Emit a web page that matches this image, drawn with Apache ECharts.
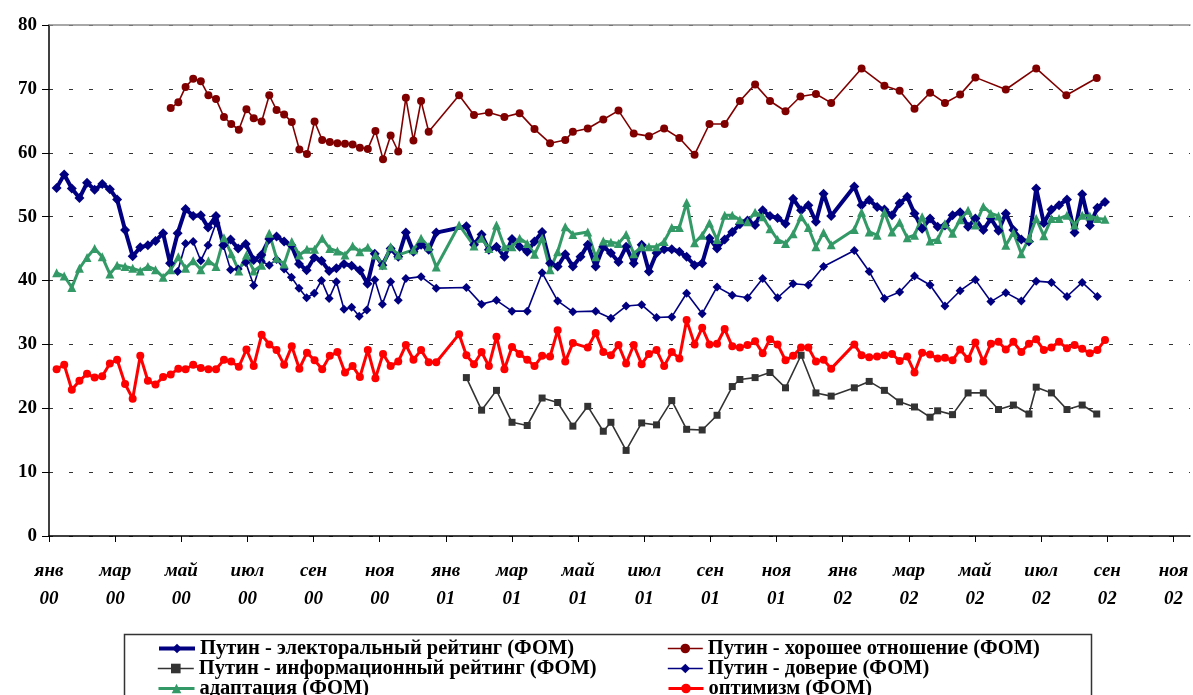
<!DOCTYPE html>
<html>
<head>
<meta charset="utf-8">
<script src="https://cdn.jsdelivr.net/npm/echarts@6/dist/echarts.min.js"></script>
<style>
html,body{margin:0;padding:0;background:#fff;}
#chart{width:1193px;height:695px;}
</style>
</head>
<body>
<div id="chart"></div>
<script>
// x values: months since January 2000 (survey dates)
const monthNames = ['янв','мар','май','июл','сен','ноя'];
const yearNames = ['00','01','02'];
const tickMonths = [0,2,4,6,8,10,12,14,16,18,20,22,24,26,28,30,32,34];

const seriesNames = [
  'Путин - электоральный рейтинг (ФОМ)',
  'Путин - хорошее отношение (ФОМ)',
  'Путин - информационный рейтинг (ФОМ)',
  'Путин - доверие (ФОМ)',
  'адаптация (ФОМ)',
  'оптимизм (ФОМ)'
];

const electoralT = [0.23,0.46,0.69,0.92,1.15,1.38,1.61,1.84,2.06,2.30,2.53,2.76,2.99,3.22,3.45,3.66,3.89,4.13,4.36,4.59,4.81,5.05,5.27,5.49,5.72,5.95,6.19,6.42,6.66,6.88,7.11,7.33,7.56,7.79,8.02,8.24,8.47,8.69,8.92,9.15,9.40,9.63,9.85,10.08,10.33,10.56,10.79,11.02,11.25,11.48,11.71,12.62,12.85,13.08,13.30,13.53,13.77,14.00,14.23,14.46,14.68,14.91,15.15,15.38,15.61,15.84,16.07,16.29,16.53,16.76,16.99,17.22,17.45,17.68,17.92,18.14,18.37,18.60,18.83,19.06,19.28,19.52,19.75,19.97,20.20,20.43,20.66,20.89,21.12,21.35,21.58,21.80,22.03,22.27,22.50,22.74,22.96,23.19,23.42,23.65,24.35,24.57,24.80,25.04,25.26,25.49,25.72,25.95,26.17,26.40,26.64,26.87,27.09,27.32,27.55,27.79,28.01,28.25,28.48,28.71,28.93,29.16,29.40,29.63,29.85,30.08,30.31,30.54,30.78,31.01,31.24,31.47,31.70,31.93];
const electoralV = [54.5,56.6,54.4,52.9,55.3,54.2,55.1,54.3,52.7,47.9,43.8,45.2,45.5,46.2,47.4,42.7,47.4,51.2,50.1,50.2,48.3,50.1,45.5,46.4,45.0,45.7,43.2,44.0,46.5,46.9,46.1,45.5,42.6,41.6,43.6,43.1,41.5,41.9,42.6,42.3,41.6,39.5,44.2,42.4,45.0,43.7,47.5,44.5,45.6,44.8,47.5,48.5,45.6,47.2,44.8,45.3,43.7,46.5,45.3,44.5,46.1,47.6,42.7,42.2,44.1,42.2,43.7,45.6,42.2,45.3,44.3,42.9,45.3,42.7,45.6,41.4,44.3,44.9,44.9,44.5,43.7,42.4,42.7,46.6,45.0,46.4,47.6,48.8,49.4,48.7,51.0,50.1,49.8,48.9,52.8,51.0,51.8,49.2,53.6,50.1,54.7,51.8,52.6,51.5,51.1,50.2,52.1,53.1,50.5,48.1,49.7,48.4,48.6,50.2,50.7,48.4,49.7,47.9,49.7,47.8,50.5,47.9,46.4,46.1,54.4,49.0,51.1,51.8,52.7,47.5,53.5,48.6,51.4,52.3];

const goodT = [3.68,3.91,4.13,4.36,4.59,4.82,5.05,5.29,5.51,5.74,5.97,6.19,6.43,6.66,6.88,7.11,7.34,7.57,7.80,8.03,8.26,8.49,8.72,8.95,9.18,9.40,9.64,9.87,10.10,10.33,10.56,10.79,11.02,11.25,11.48,12.40,12.85,13.30,13.77,14.23,14.68,15.15,15.61,15.84,16.29,16.76,17.22,17.68,18.14,18.60,19.06,19.52,19.97,20.43,20.89,21.35,21.80,22.27,22.72,23.19,23.65,24.57,25.26,25.72,26.17,26.64,27.09,27.55,28.01,28.93,29.85,30.76,31.68];
const goodV = [67.0,67.9,70.3,71.6,71.2,69.0,68.4,65.6,64.5,63.6,66.8,65.4,64.9,69.0,66.7,66.0,64.8,60.5,59.8,64.9,62.0,61.7,61.5,61.4,61.3,60.8,60.6,63.4,59.0,62.7,60.2,68.6,61.9,68.1,63.3,69.0,65.9,66.3,65.6,66.2,63.7,61.5,62.0,63.3,63.8,65.2,66.6,63.0,62.6,63.8,62.3,59.7,64.5,64.5,68.1,70.7,68.1,66.5,68.8,69.2,67.8,73.2,70.5,69.7,66.9,69.4,67.8,69.1,71.8,69.9,73.2,69.0,71.7];

const infoT = [12.62,13.08,13.53,14.00,14.46,14.91,15.38,15.84,16.29,16.76,16.99,17.45,17.92,18.37,18.83,19.28,19.75,20.20,20.66,20.89,21.35,21.80,22.27,22.74,23.19,23.65,24.35,24.80,25.26,25.72,26.17,26.64,26.87,27.32,27.79,28.25,28.71,29.16,29.63,29.85,30.31,30.78,31.24,31.68];
const infoV = [24.8,19.7,22.8,17.8,17.3,21.6,20.9,17.2,20.3,16.4,17.8,13.4,17.7,17.4,21.2,16.7,16.6,18.9,23.4,24.5,24.8,25.6,23.2,28.3,22.4,21.9,23.2,24.2,22.8,21.0,20.2,18.6,19.6,19.0,22.4,22.4,19.8,20.5,19.1,23.3,22.4,19.8,20.5,19.1];

const trustT = [3.89,4.13,4.36,4.59,4.81,5.05,5.27,5.49,5.72,5.95,6.19,6.42,6.66,6.88,7.11,7.33,7.56,7.79,8.02,8.24,8.47,8.69,8.92,9.15,9.38,9.61,9.85,10.08,10.33,10.56,10.79,11.25,11.71,12.62,13.08,13.53,14.00,14.46,14.91,15.38,15.84,16.53,16.99,17.45,17.92,18.37,18.83,19.28,19.75,20.20,20.66,21.12,21.58,22.03,22.50,22.96,23.42,24.35,24.80,25.26,25.72,26.17,26.64,27.09,27.55,28.01,28.48,28.93,29.40,29.85,30.31,30.78,31.24,31.70];
const trustV = [41.4,45.8,46.1,43.1,45.5,49.0,45.5,41.7,41.8,42.8,39.2,43.0,42.4,43.3,41.8,40.5,38.8,37.3,38.0,40.0,37.2,39.8,35.5,35.8,34.4,35.4,40.1,36.3,39.8,36.9,40.3,40.6,38.8,38.9,36.3,36.9,35.2,35.2,41.2,36.8,35.1,35.2,34.1,36.0,36.2,34.2,34.3,38.0,34.8,39.0,37.7,37.3,40.3,37.3,39.5,39.3,42.2,44.7,41.4,37.2,38.2,40.7,39.3,36.0,38.4,40.1,36.7,38.1,36.8,39.9,39.7,37.5,39.7,37.5];

const adaptT = [0.23,0.46,0.69,0.92,1.15,1.38,1.61,1.84,2.06,2.30,2.53,2.76,2.99,3.22,3.45,3.68,3.91,4.13,4.36,4.59,4.82,5.05,5.29,5.51,5.74,5.97,6.19,6.43,6.66,6.88,7.11,7.34,7.57,7.80,8.03,8.26,8.49,8.72,8.95,9.18,9.40,9.64,9.87,10.10,10.33,10.56,11.02,11.25,11.48,11.71,12.40,12.85,13.08,13.30,13.53,13.77,14.00,14.23,14.46,14.68,14.91,15.15,15.38,15.61,15.84,16.29,16.53,16.76,16.99,17.22,17.45,17.68,17.92,18.14,18.37,18.60,18.83,19.06,19.28,19.52,19.75,19.97,20.20,20.43,20.66,20.89,21.12,21.35,21.58,21.80,22.03,22.27,22.50,22.74,22.96,23.19,23.42,23.65,24.35,24.57,24.80,25.04,25.26,25.49,25.72,25.95,26.17,26.40,26.64,26.87,27.09,27.32,27.55,27.79,28.01,28.25,28.48,28.71,28.93,29.16,29.40,29.63,29.85,30.08,30.31,30.54,30.78,31.01,31.24,31.47,31.70,31.93];
const adaptV = [41.2,40.7,38.9,41.9,43.6,45.0,43.7,41.0,42.4,42.2,41.9,41.5,42.2,41.7,40.5,41.7,43.7,41.9,43.1,41.7,43.1,42.2,46.7,44.2,41.5,44.0,41.5,42.4,47.4,43.5,42.6,46.1,44.0,44.9,44.9,46.6,45.0,44.6,44.0,45.4,44.5,45.2,44.0,42.4,45.3,44.0,44.8,46.6,45.3,42.1,48.7,45.4,46.6,45.0,48.7,45.3,45.3,46.6,45.8,44.1,46.6,41.7,44.5,48.4,47.2,47.6,43.7,46.2,46.0,45.8,47.2,44.2,45.3,45.3,45.3,46.1,48.3,48.3,52.2,45.9,47.1,49.0,46.4,50.2,50.2,49.5,49.2,50.7,50.0,48.1,46.4,45.8,47.3,50.0,48.3,45.3,47.5,45.6,48.0,50.7,47.6,47.1,50.7,47.6,49.1,46.7,47.1,50.0,46.2,46.4,48.9,47.4,49.5,51.0,48.7,51.6,50.5,50.1,45.5,47.5,44.2,46.6,49.7,47.0,49.7,49.7,50.2,48.7,50.2,50.1,49.7,49.6];

const optimT = [0.23,0.46,0.69,0.92,1.15,1.38,1.61,1.84,2.06,2.30,2.53,2.76,2.99,3.22,3.45,3.68,3.91,4.13,4.36,4.59,4.82,5.05,5.29,5.51,5.74,5.97,6.19,6.43,6.66,6.88,7.11,7.34,7.57,7.80,8.03,8.26,8.49,8.72,8.95,9.18,9.40,9.64,9.87,10.10,10.33,10.56,10.79,11.02,11.25,11.48,11.71,12.40,12.62,12.85,13.08,13.30,13.53,13.77,14.00,14.23,14.46,14.68,14.91,15.15,15.38,15.61,15.84,16.29,16.53,16.76,16.99,17.22,17.45,17.68,17.92,18.14,18.37,18.60,18.83,19.06,19.28,19.52,19.75,19.97,20.20,20.43,20.66,20.89,21.12,21.35,21.58,21.80,22.03,22.27,22.50,22.74,22.96,23.19,23.42,23.65,24.35,24.57,24.80,25.04,25.26,25.49,25.72,25.95,26.17,26.40,26.64,26.87,27.09,27.32,27.55,27.79,28.01,28.25,28.48,28.71,28.93,29.16,29.40,29.63,29.85,30.08,30.31,30.54,30.78,31.01,31.24,31.47,31.70,31.93];
const optimV = [26.1,26.8,22.9,24.3,25.4,24.8,25.0,27.0,27.6,23.8,21.5,28.2,24.3,23.7,24.9,25.3,26.2,26.1,26.8,26.3,26.1,26.1,27.6,27.3,26.5,29.2,26.6,31.5,30.0,29.1,26.8,29.7,26.2,28.7,27.5,26.1,28.2,28.8,25.6,26.6,24.9,29.1,24.7,28.5,26.6,27.3,29.9,27.6,29.1,27.2,27.2,31.6,28.3,26.9,28.8,26.6,31.2,26.1,29.6,28.5,27.6,26.6,28.2,28.1,32.2,27.3,30.2,29.5,31.8,28.8,28.3,29.9,27.0,29.9,26.9,28.5,29.1,26.6,28.8,27.8,33.8,30.0,32.6,30.0,30.1,32.4,29.7,29.5,29.9,30.5,28.6,30.8,30.0,27.5,28.2,29.5,29.5,27.3,27.6,26.2,30.0,28.3,28.0,28.1,28.3,28.5,27.4,28.1,25.6,28.7,28.4,27.8,27.9,27.5,29.2,27.7,30.3,27.3,30.1,30.4,29.2,30.4,28.8,30.1,30.8,29.1,29.5,30.4,29.4,29.9,29.3,28.6,29.1,30.7];

function zip(t, v) { return t.map((x, i) => [x, v[i]]); }

const serif = 'Liberation Serif, Times New Roman, serif';

const chart = echarts.init(document.getElementById('chart'), null, {renderer: 'canvas'});

const styles = [
  {color: '#000080', width: 4,   symbol: 'diamond',  size: 10},
  {color: '#800000', width: 1.6, symbol: 'circle',   size: 8},
  {color: '#333333', width: 1.6, symbol: 'rect',     size: 7},
  {color: '#000080', width: 1.6, symbol: 'diamond',  size: 9},
  {color: '#339966', width: 3,   symbol: 'triangle', size: 9},
  {color: '#ff0000', width: 3,   symbol: 'circle',   size: 8}
];
const seriesData = [
  [electoralT, electoralV], [goodT, goodV], [infoT, infoV],
  [trustT, trustV], [adaptT, adaptV], [optimT, optimV]
];

const series = seriesNames.map((name, i) => ({
  name: name, type: 'line', data: zip(seriesData[i][0], seriesData[i][1]),
  symbol: styles[i].symbol, symbolSize: styles[i].size, showSymbol: true,
  lineStyle: {color: styles[i].color, width: styles[i].width},
  itemStyle: {color: styles[i].color, borderWidth: 0},
  emphasis: {disabled: true},
  animation: false
}));

// legend: two columns, three rows
const legendPos = [
  {left: 157, top: 638, w: 36}, {left: 667, top: 638, w: 35},
  {left: 157, top: 658, w: 36}, {left: 667, top: 658, w: 35},
  {left: 157, top: 678, w: 36}, {left: 667, top: 678, w: 35}
];
const legends = seriesNames.map((name, i) => ({
  data: [name], orient: 'horizontal', left: legendPos[i].left, top: legendPos[i].top,
  padding: 0, itemWidth: legendPos[i].w, itemHeight: 12, itemGap: 0,
  selectedMode: false,
  lineStyle: {width: styles[i].width, color: styles[i].color},
  itemStyle: {color: styles[i].color},
  textStyle: {fontFamily: serif, fontSize: 20.5, fontWeight: 'bold', color: '#000', lineHeight: 20}
}));

const option = {
  animation: false,
  backgroundColor: '#fff',
  grid: {left: 49, right: 3, top: 25, bottom: 159, containLabel: false},
  xAxis: [{
    type: 'value', min: 0, max: 34.5, interval: 2,
    axisLine: {show: true, lineStyle: {color: '#000', width: 1.5}},
    axisTick: {show: true, length: 6, inside: false, lineStyle: {color: '#000', width: 1},
      customValues: tickMonths},
    axisLabel: {
      customValues: tickMonths,
      margin: 21,
      fontFamily: serif, fontSize: 19, fontWeight: 'bold', fontStyle: 'italic',
      color: '#000', lineHeight: 28,
      formatter: function (v) {
        const m = Math.round(v);
        return monthNames[(m % 12) / 2] + '\n' + yearNames[Math.floor(m / 12)];
      }
    },
    splitLine: {show: false}
  }, {
    type: 'value', min: 0, max: 34.5, position: 'top',
    axisLine: {show: true, onZero: false, lineStyle: {color: '#8c8c8c', width: 1.5}},
    axisTick: {show: false}, axisLabel: {show: false}, splitLine: {show: false}
  }],
  yAxis: {
    type: 'value', min: 0, max: 80, interval: 10,
    axisLine: {show: true, lineStyle: {color: '#000', width: 1.5}},
    axisTick: {show: true, length: 7, lineStyle: {color: '#000', width: 1}},
    axisLabel: {margin: 12, fontFamily: serif, fontSize: 19, fontWeight: 'bold', color: '#000'},
    splitLine: {show: true, lineStyle: {color: '#333', width: 1, type: [4, 16]}}
  },
  legend: legends,
  graphic: [{
    type: 'rect', left: 122, top: 632, z: -1,
    shape: {width: 967, height: 90},
    style: {fill: 'none', stroke: '#333', lineWidth: 1.5}
  }],
  series: series
};
chart.setOption(option);
</script>
</body>
</html>
